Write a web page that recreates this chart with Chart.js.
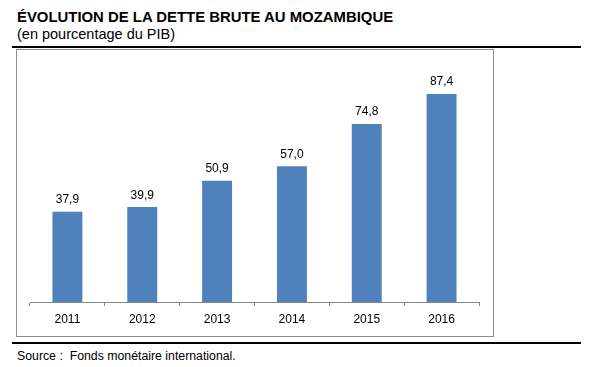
<!DOCTYPE html>
<html><head><meta charset="utf-8">
<script src="https://cdn.jsdelivr.net/npm/chart.js@4"></script>
<style>
html,body{margin:0;padding:0;background:#fff;width:600px;height:367px;overflow:hidden;font-family:"Liberation Sans",Arial,sans-serif;}
#wrap{position:relative;width:600px;height:367px;}
#c{position:absolute;left:0;top:0;}
.t{position:absolute;color:#000;white-space:nowrap;line-height:1;}
#title{left:17px;top:10px;font-size:14.9px;font-weight:bold;}
#sub{left:17px;top:26.5px;font-size:14.5px;}
#src{left:17px;top:350px;font-size:12.3px;}
.line{position:absolute;background:#000;height:2px;left:12px;width:569px;}
#frame{position:absolute;left:16px;top:49px;width:476px;height:286px;border:1px solid #8c8c8c;}
</style></head>
<body><div id="wrap">
<div id="title" class="t">ÉVOLUTION DE LA DETTE BRUTE AU MOZAMBIQUE</div>
<div id="sub" class="t">(en pourcentage du PIB)</div>
<div class="line" style="top:46px"></div>
<div id="frame"></div>
<div class="line" style="top:342px"></div>
<div id="src" class="t">Source :&nbsp; Fonds monétaire international.</div>
<canvas id="c" width="600" height="367"></canvas>
</div>
<script>
const categories = ["2011","2012","2013","2014","2015","2016"];
const debtValues = [37.9, 39.9, 50.9, 57.0, 74.8, 87.4];
const valueLabels = ["37,9","39,9","50,9","57,0","74,8","87,4"];

const labelPlugin = {
  id:'vlabels',
  afterDatasetsDraw(chart){
    const ctx = chart.ctx;
    const meta = chart.getDatasetMeta(0);
    ctx.save();
    ctx.font = '12px "Liberation Sans", Arial, sans-serif';
    ctx.fillStyle = '#000';
    ctx.textAlign = 'center';
    ctx.textBaseline = 'alphabetic';
    meta.data.forEach((bar,i)=>{
      ctx.fillText(valueLabels[i], bar.x, bar.y - 8.5);
    });
    ctx.restore();
  }
};

new Chart(document.getElementById('c'), {
  type:'bar',
  data:{labels:categories, datasets:[{data:debtValues, backgroundColor:'#4F81BD', borderWidth:0, categoryPercentage:1, barPercentage:0.4}]},
  options:{
    responsive:false, animation:false, devicePixelRatio:1,
    layout:{padding:{left:30, right:121, top:64, bottom:35}},
    plugins:{legend:{display:false}, tooltip:{enabled:false}, title:{display:false}},
    scales:{
      x:{
        afterFit(s){ s.height = 30; },
        grid:{display:true, drawOnChartArea:false, drawTicks:true, tickLength:4, color:'#868686', lineWidth:1, offset:true},
        border:{display:true, color:'#868686', width:1},
        ticks:{color:'#000', font:{family:'"Liberation Sans", Arial, sans-serif', size:12}, padding:6, maxRotation:0}
      },
      y:{display:false, min:0, max:100}
    }
  },
  plugins:[labelPlugin]
});
</script>
</body></html>
